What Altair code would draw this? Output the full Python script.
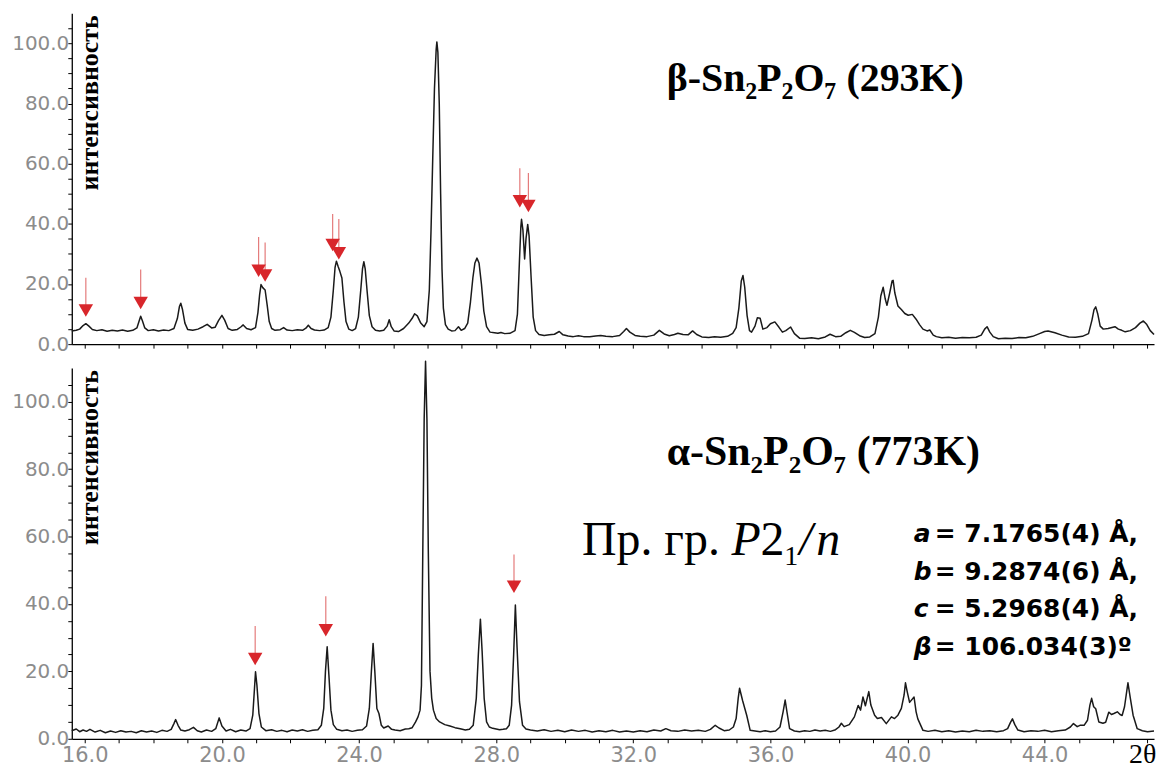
import altair as alt
import pandas as pd

# ---------------- data ----------------
# beta-Sn2P2O7 (293K): 2theta (deg) and intensity (%)
TOP_THETA = [15.62, 15.75, 15.85, 15.95, 16.03, 16.12, 16.22, 16.35, 16.5, 16.65, 16.8, 16.95, 17.1, 17.25,
             17.4, 17.52, 17.58, 17.63, 17.68, 17.75, 17.85, 18.0, 18.15, 18.3, 18.45, 18.6, 18.7, 18.76,
             18.8, 18.85, 18.92, 19.0, 19.15, 19.3, 19.45, 19.57, 19.7, 19.8, 19.9, 20.0, 20.08, 20.18,
             20.3, 20.45, 20.55, 20.62, 20.72, 20.85, 20.98, 21.05, 21.1, 21.14, 21.19, 21.26, 21.32,
             21.38, 21.45, 21.55, 21.7, 21.8, 21.9, 22.05, 22.2, 22.35, 22.45, 22.52, 22.6, 22.7, 22.85,
             22.98, 23.1, 23.18, 23.25, 23.3, 23.34, 23.39, 23.44, 23.5, 23.56, 23.62, 23.7, 23.8, 23.9,
             23.98, 24.05, 24.1, 24.14, 24.18, 24.24, 24.3, 24.38, 24.48, 24.6, 24.72, 24.82, 24.88,
             24.94, 25.02, 25.15, 25.3, 25.45, 25.55, 25.62, 25.7, 25.8, 25.9, 25.98, 26.05, 26.1,
             26.15, 26.2, 26.25, 26.27, 26.3, 26.34, 26.38, 26.42, 26.46, 26.52, 26.6, 26.7, 26.8, 26.9,
             26.98, 27.08, 27.17, 27.25, 27.32, 27.38, 27.44, 27.5, 27.57, 27.64, 27.72, 27.82, 27.95,
             28.05, 28.14, 28.25, 28.4, 28.55, 28.62, 28.68, 28.72, 28.74, 28.78, 28.83, 28.87, 28.92,
             28.96, 29.02, 29.08, 29.15, 29.25, 29.4, 29.55, 29.7, 29.84, 29.95, 30.1, 30.25, 30.4,
             30.55, 30.73, 30.9, 31.05, 31.2, 31.4, 31.6, 31.72, 31.8, 31.9, 32.05, 32.2, 32.4, 32.6,
             32.76, 32.9, 33.05, 33.2, 33.3, 33.45, 33.6, 33.73, 33.85, 34.0, 34.2, 34.37, 34.55, 34.75,
             34.9, 35.0, 35.08, 35.15, 35.2, 35.25, 35.32, 35.39, 35.45, 35.55, 35.62, 35.7, 35.78, 35.9,
             36.0, 36.13, 36.25, 36.35, 36.45, 36.59, 36.7, 36.85, 37.0, 37.2, 37.4, 37.6, 37.74, 37.9,
             38.05, 38.2, 38.33, 38.45, 38.6, 38.75, 38.9, 39.05, 39.15, 39.22, 39.29, 39.35, 39.4,
             39.48, 39.55, 39.58, 39.63, 39.72, 39.82, 39.92, 40.02, 40.14, 40.25, 40.35, 40.45, 40.57,
             40.65, 40.75, 40.84, 41.0, 41.2, 41.4, 41.6, 41.8, 42.0, 42.15, 42.25, 42.32, 42.4, 42.5,
             42.65, 42.85, 43.05, 43.25, 43.45, 43.65, 43.85, 44.0, 44.1, 44.3, 44.5, 44.7, 44.9, 45.1,
             45.28, 45.38, 45.44, 45.49, 45.55, 45.62, 45.71, 45.85, 46.05, 46.15, 46.25, 46.35, 46.5,
             46.65, 46.78, 46.88, 46.98, 47.08, 47.19]
TOP_INT = [4.4, 4.6, 5.0, 6.2, 6.8, 6.0, 4.9, 4.5, 4.8, 4.3, 4.6, 4.4, 4.7, 4.3,
           4.6, 5.4, 7.5, 9.3, 7.8, 5.4, 4.5, 4.8, 4.4, 4.7, 4.5, 5.2, 8.5, 12.5,
           13.6, 11.5, 7.0, 4.9, 4.6, 5.0, 5.8, 6.6, 5.4, 5.6, 7.8, 9.6, 8.0, 5.2,
           4.6, 4.9, 5.7, 6.4, 5.2, 4.8, 5.5, 10.5, 16.5, 19.8, 18.8, 18.0, 13.0,
           7.5, 5.2, 4.6, 4.8, 5.5, 4.7, 4.5, 4.8, 4.6, 5.3, 6.3, 5.2, 4.7, 4.5,
           4.7, 5.5, 9.0, 18.0, 25.5, 27.6, 25.8, 24.2, 22.0, 14.0, 7.5, 5.0, 4.5, 5.2,
           9.0, 18.0, 25.0, 27.4, 25.0, 17.0, 9.5, 5.8, 4.6, 4.4, 4.6, 6.0, 8.1,
           5.8, 4.4, 4.2, 5.2, 7.0, 8.6, 10.1, 9.4, 7.0, 5.8, 7.5, 18.0, 38.0,
           62.0, 85.0, 98.0, 100.5, 97.0, 80.0, 50.0, 25.0, 12.0, 6.5, 5.0, 4.4, 4.5, 5.8,
           4.6, 5.2, 7.0, 14.0, 22.0, 27.0, 28.6, 27.0, 20.0, 11.0, 5.8, 4.0, 3.8,
           3.6, 3.9, 3.5, 3.6, 4.5, 10.0, 28.0, 39.0, 41.5, 38.0, 28.3, 35.0, 39.8,
           36.0, 22.0, 9.0, 4.5, 3.2, 2.9, 3.1, 3.3, 4.2, 3.1, 2.7, 2.5, 2.8,
           2.5, 2.5, 2.7, 2.9, 2.6, 2.5, 2.9, 4.2, 5.2, 4.0, 2.9, 2.6, 2.5, 3.0,
           4.6, 3.4, 2.8, 3.2, 3.6, 3.2, 3.1, 4.4, 3.2, 2.4, 2.2, 2.5, 2.3, 2.6,
           3.6, 5.5, 12.0, 21.0, 22.8, 19.0, 9.5, 4.5, 4.0, 6.0, 8.8, 8.6, 5.0, 5.5,
           6.8, 7.4, 5.6, 4.0, 4.5, 5.7, 3.5, 2.0, 1.9, 2.1, 1.8, 2.4, 3.3, 2.5,
           2.6, 3.8, 4.6, 3.9, 2.8, 2.2, 2.4, 3.5, 9.0, 16.0, 18.9, 15.0, 12.9,
           17.0, 21.0, 21.2, 17.0, 12.7, 11.5, 10.2, 9.6, 9.9, 8.3, 6.5, 5.0, 4.4,
           4.7, 3.0, 2.5, 2.1, 2.3, 2.0, 2.2, 2.1, 2.3, 3.0, 5.0, 5.8, 4.0, 2.5,
           1.8, 2.0, 1.9, 2.2, 2.1, 2.6, 3.5, 4.2, 4.4, 3.8, 3.0, 2.4, 2.3, 2.6,
           3.5, 8.0, 11.5, 12.4, 10.0, 6.0, 5.0, 5.2, 5.8, 5.0, 4.6, 4.1, 4.5,
           5.5, 7.0, 7.7, 6.5, 4.5, 3.2]

# alpha-Sn2P2O7 (773K)
BOT_THETA = [15.62, 15.75, 15.85, 15.95, 16.05, 16.15, 16.3, 16.45, 16.6, 16.75, 16.9, 17.05, 17.2, 17.35,
             17.5, 17.65, 17.8, 17.95, 18.1, 18.25, 18.4, 18.52, 18.6, 18.65, 18.72, 18.8, 18.92, 19.05,
             19.17, 19.28, 19.4, 19.55, 19.7, 19.82, 19.92, 20.0, 20.12, 20.25, 20.4, 20.55, 20.7, 20.82,
             20.9, 20.95, 20.98, 21.02, 21.08, 21.15, 21.28, 21.45, 21.6, 21.75, 21.9, 22.05, 22.2, 22.35,
             22.5, 22.65, 22.8, 22.9, 22.97, 23.02, 23.07, 23.12, 23.18, 23.25, 23.35, 23.5, 23.65, 23.8,
             23.95, 24.1, 24.22, 24.3, 24.36, 24.41, 24.46, 24.52, 24.58, 24.65, 24.72, 24.85, 24.95,
             25.05, 25.2, 25.35, 25.45, 25.55, 25.65, 25.72, 25.78, 25.82, 25.86, 25.9, 25.94, 25.98,
             26.02, 26.07, 26.12, 26.17, 26.25, 26.35, 26.5, 26.65, 26.8, 26.95, 27.1, 27.22, 27.33,
             27.42, 27.48, 27.54, 27.59, 27.65, 27.72, 27.8, 27.9, 28.0, 28.1, 28.2, 28.3, 28.38, 28.45,
             28.51, 28.56, 28.61, 28.68, 28.77, 28.87, 29.0, 29.2, 29.4, 29.6, 29.8, 30.0, 30.2, 30.4,
             30.6, 30.8, 31.0, 31.2, 31.4, 31.6, 31.8, 32.0, 32.2, 32.4, 32.6, 32.8, 32.95, 33.1, 33.3,
             33.5, 33.7, 33.9, 34.1, 34.25, 34.39, 34.5, 34.65, 34.8, 34.92, 35.0, 35.06, 35.1, 35.19,
             35.31, 35.41, 35.55, 35.7, 35.85, 36.0, 36.15, 36.28, 36.37, 36.43, 36.49, 36.56, 36.7,
             36.85, 37.0, 37.15, 37.3, 37.45, 37.6, 37.75, 37.9, 38.0, 38.07, 38.15, 38.3, 38.45, 38.56,
             38.63, 38.7, 38.77, 38.87, 38.93, 39.04, 39.12, 39.24, 39.38, 39.53, 39.62, 39.72, 39.82,
             39.9, 39.94, 39.99, 40.06, 40.19, 40.25, 40.3, 40.45, 40.6, 40.8, 41.0, 41.2, 41.4, 41.6,
             41.8, 42.0, 42.2, 42.4, 42.6, 42.8, 42.92, 43.0, 43.06, 43.13, 43.22, 43.4, 43.6, 43.8,
             44.0, 44.2, 44.4, 44.6, 44.75, 44.84, 44.95, 45.03, 45.15, 45.25, 45.32, 45.37, 45.43,
             45.49, 45.58, 45.7, 45.78, 45.87, 45.95, 46.02, 46.12, 46.2, 46.26, 46.33, 46.4, 46.43,
             46.5, 46.58, 46.7, 46.85, 47.0, 47.19]
BOT_INT = [2.4, 2.9, 2.1, 2.6, 2.2, 2.8, 2.0, 2.5, 1.8, 2.3, 1.9, 2.4, 2.0, 2.2,
           1.8, 2.4, 2.0, 2.3, 1.9, 2.5, 2.2, 2.8, 4.5, 5.7, 4.0, 2.6, 2.3, 2.7,
           3.4, 2.4, 2.0, 2.6, 2.2, 3.0, 6.2, 3.8, 2.3, 2.8, 2.1, 2.6, 2.3, 3.0,
           7.0, 15.0, 19.9, 16.0, 7.5, 3.5, 2.4, 2.7, 2.2, 2.5, 2.1, 2.6, 2.3, 2.7,
           2.2, 2.5, 2.7, 4.0, 9.0, 20.0, 27.3, 19.0, 8.5, 4.2, 2.8, 2.4, 2.6, 2.2,
           2.5, 2.7, 3.8, 9.0, 20.0, 28.3, 20.0, 9.0, 7.5, 4.0, 3.2, 3.8, 2.8,
           2.6, 2.4, 2.9, 3.0, 3.3, 5.0, 6.5, 8.5, 15.8, 56.0, 95.0, 112.0, 95.0,
           56.0, 20.0, 12.0, 8.5, 6.0, 5.0, 4.2, 3.8, 3.3, 3.0, 2.6, 2.8, 4.0,
           12.0, 25.0, 35.5, 26.0, 12.0, 5.0, 3.5, 3.1, 2.9, 2.7, 2.8, 3.0, 4.0, 10.0,
           25.0, 39.7, 27.0, 11.0, 4.0, 2.9, 2.6, 2.3, 2.7, 2.2, 2.5, 2.1, 2.6, 2.2,
           2.5, 2.0, 2.4, 2.1, 2.5, 2.0, 2.3, 2.0, 2.4, 2.1, 2.6, 2.3, 3.0, 2.4, 2.2,
           2.6, 2.3, 2.5, 2.2, 2.8, 4.0, 3.2, 2.4, 2.6, 3.5, 6.0, 12.0, 15.0, 11.3,
           6.9, 2.5, 2.3, 2.1, 2.4, 2.1, 2.3, 3.5, 8.0, 11.5, 7.5, 3.0, 2.3,
           2.1, 2.4, 2.2, 2.6, 2.3, 2.5, 2.2, 2.7, 3.5, 4.6, 3.6, 4.2, 6.5, 9.9,
           8.5, 12.4, 9.8, 14.0, 10.0, 7.0, 6.0, 6.3, 4.5, 6.5, 6.0, 7.0, 9.0,
           13.0, 16.6, 14.0, 10.8, 12.4, 8.0, 5.9, 2.5, 2.2, 2.5, 2.1, 2.4, 2.0, 2.3,
           2.1, 2.5, 2.2, 2.4, 2.1, 2.4, 3.0, 4.8, 5.9, 4.2, 2.6, 2.1, 2.4, 2.2,
           2.5, 2.1, 2.4, 2.6, 3.5, 4.5, 3.6, 4.0, 4.0, 5.5, 10.0, 12.0, 9.5,
           8.9, 5.0, 4.6, 4.9, 7.9, 7.2, 7.5, 8.0, 7.2, 6.9, 9.5, 14.5, 16.6,
           12.0, 7.0, 3.0, 2.4, 2.1, 2.3]

# red arrows: 2theta, intensity where the thin line starts, intensity of the arrow head
TOP_ARROW_THETA = [16.03, 17.63, 21.07, 21.26, 23.23, 23.41, 28.69, 28.94]
TOP_ARROW_START = [22.1, 24.8, 35.6, 33.8, 43.3, 41.6, 58.5, 56.9]
TOP_ARROW_HEAD = [11.2, 13.7, 24.4, 22.8, 33.0, 30.2, 47.5, 45.9]
BOT_ARROW_THETA = [20.97, 23.03, 28.52]
BOT_ARROW_START = [33.5, 42.3, 54.7]
BOT_ARROW_HEAD = [23.7, 32.2, 45.1]

X_TICKS = list(range(16, 48))
Y_TICKS = list(range(0, 110, 5))

Y_TITLE = ["интенсивность"]
TOP_LABEL = ["β-Sn₂P₂O₇ (293K)"]
BOT_LABEL = ["α-Sn₂P₂O₇ (773K)"]
SG_PARTS = ["Пр. гр.", "P", "2", "1", "/", "n"]
CELL_SYMBOLS = ["a", "b", "c", "β"]
CELL_VALUES = ["= 7.1765(4) Å,", "= 9.2874(6) Å,", "= 5.2968(4) Å,", "= 106.034(3)º"]
X_TITLE = ["2θ"]

# ---------------- styling ----------------
X_DOMAIN = [15.62, 47.19]
Y_DOMAIN = [0, 110]
PLOT_W = 1086
TOP_H = 332
BOT_H = 372
SANS = "DejaVu Sans"
SERIF = "Liberation Serif"
GRAY = "#8c8c8c"
ARROW_LINE = "#e47b7b"
ARROW_HEAD = "#d8262b"

xscale = alt.Scale(domain=X_DOMAIN, nice=False, zero=False)
yscale = alt.Scale(domain=Y_DOMAIN, nice=False, zero=False)


def x_axis(show_labels):
    return alt.Axis(values=X_TICKS, labels=show_labels, title=None, grid=False,
                    labelExpr="datum.value % 4 == 0 ? format(datum.value, '.1f') : ''",
                    labelFont=SANS, labelFontSize=21, labelColor=GRAY, labelPadding=2,
                    labelOverlap=False, labelFlush=False,
                    domainColor="#000000", domainWidth=1.3, tickColor="#000000",
                    tickWidth=1, tickSize=4)


Y_AXIS = alt.Axis(values=Y_TICKS, title=None, grid=False,
                  labelExpr="datum.value % 20 == 0 ? format(datum.value, '.1f') : ''",
                  labelFont=SANS, labelFontSize=20, labelColor=GRAY, labelPadding=-1,
                  labelOverlap=False, labelFlush=False,
                  domainColor="#000000", domainWidth=1.3, tickColor="#000000",
                  tickWidth=1, tickSize=4)


def text_layer(values, x, y, **kw):
    return alt.Chart(pd.DataFrame({"t": values})).mark_text(**kw).encode(
        x=alt.value(x), y=alt.value(y), text="t:N")


def panel(theta, inten, a_theta, a_start, a_head, height, show_x_labels, extra_layers):
    df = pd.DataFrame({"theta": theta, "intensity": inten})
    arrows = pd.DataFrame({"theta": a_theta, "start": a_start, "head": a_head})
    xa = x_axis(show_x_labels)
    line = alt.Chart(df).mark_line(color="#1a1a1a", strokeWidth=1.5, strokeJoin="round").encode(
        x=alt.X("theta:Q", scale=xscale, axis=xa),
        y=alt.Y("intensity:Q", scale=yscale, axis=Y_AXIS),
    )
    shafts = alt.Chart(arrows).mark_rule(color=ARROW_LINE, strokeWidth=1.2).encode(
        x=alt.X("theta:Q", scale=xscale, axis=xa),
        y=alt.Y("start:Q", scale=yscale, axis=Y_AXIS),
        y2="head:Q",
    )
    heads = alt.Chart(arrows).mark_point(shape="triangle-down", filled=True, color=ARROW_HEAD,
                                         opacity=1, size=210).encode(
        x=alt.X("theta:Q", scale=xscale, axis=xa),
        y=alt.Y("head:Q", scale=yscale, axis=Y_AXIS),
    )
    ytitle = text_layer(Y_TITLE, 18, 2, angle=270, align="right", baseline="middle", font=SERIF,
                        fontWeight="bold", fontSize=26, color="#000000")
    return alt.layer(line, shafts, heads, ytitle, *extra_layers).properties(
        width=PLOT_W, height=height)


top_extra = [
    text_layer(TOP_LABEL, 597, 78, align="left", baseline="alphabetic", font=SERIF,
               fontWeight="bold", fontSize=40, color="#000000"),
]

bot_extra = [
    text_layer(BOT_LABEL, 597, 97, align="left", baseline="alphabetic", font=SERIF,
               fontWeight="bold", fontSize=42, color="#000000"),
    text_layer([SG_PARTS[0]], 512, 188, align="left", baseline="alphabetic", font=SERIF,
               fontSize=48, color="#000000"),
    text_layer([SG_PARTS[1]], 662, 188, align="left", baseline="alphabetic", font=SERIF,
               fontStyle="italic", fontSize=48, color="#000000"),
    text_layer([SG_PARTS[2]], 691, 188, align="left", baseline="alphabetic", font=SERIF,
               fontSize=48, color="#000000"),
    text_layer([SG_PARTS[3]], 715, 198, align="left", baseline="alphabetic", font=SERIF,
               fontSize=28, color="#000000"),
    text_layer([SG_PARTS[4]], 730, 188, align="left", baseline="alphabetic", font=SERIF,
               fontStyle="italic", fontSize=48, color="#000000"),
    text_layer([SG_PARTS[5]], 747, 188, align="left", baseline="alphabetic", font=SERIF,
               fontStyle="italic", fontSize=48, color="#000000"),
    text_layer(["\n".join(CELL_SYMBOLS)], 845, 167, align="left", baseline="middle", font=SANS,
               fontWeight="bold", fontStyle="italic", fontSize=25, lineBreak="\n",
               lineHeight=37.5, color="#000000"),
    text_layer(["\n".join(CELL_VALUES)], 866, 167, align="left", baseline="middle", font=SANS,
               fontWeight="bold", fontSize=25, lineBreak="\n", lineHeight=37.5, color="#000000"),
    text_layer(X_TITLE, 1061, 388, align="left", baseline="middle", font=SERIF,
               fontSize=28, color="#000000"),
]

top = panel(TOP_THETA, TOP_INT, TOP_ARROW_THETA, TOP_ARROW_START, TOP_ARROW_HEAD,
            TOP_H, False, top_extra)
bottom = panel(BOT_THETA, BOT_INT, BOT_ARROW_THETA, BOT_ARROW_START, BOT_ARROW_HEAD,
               BOT_H, True, bot_extra)

chart = alt.vconcat(top, bottom, spacing=24, bounds="flush").properties(
    padding={"left": 3, "top": 4, "right": 0, "bottom": 0}
).configure_view(stroke=None)

chart.save("out.html", embed_options={"renderer": "svg", "actions": False})
